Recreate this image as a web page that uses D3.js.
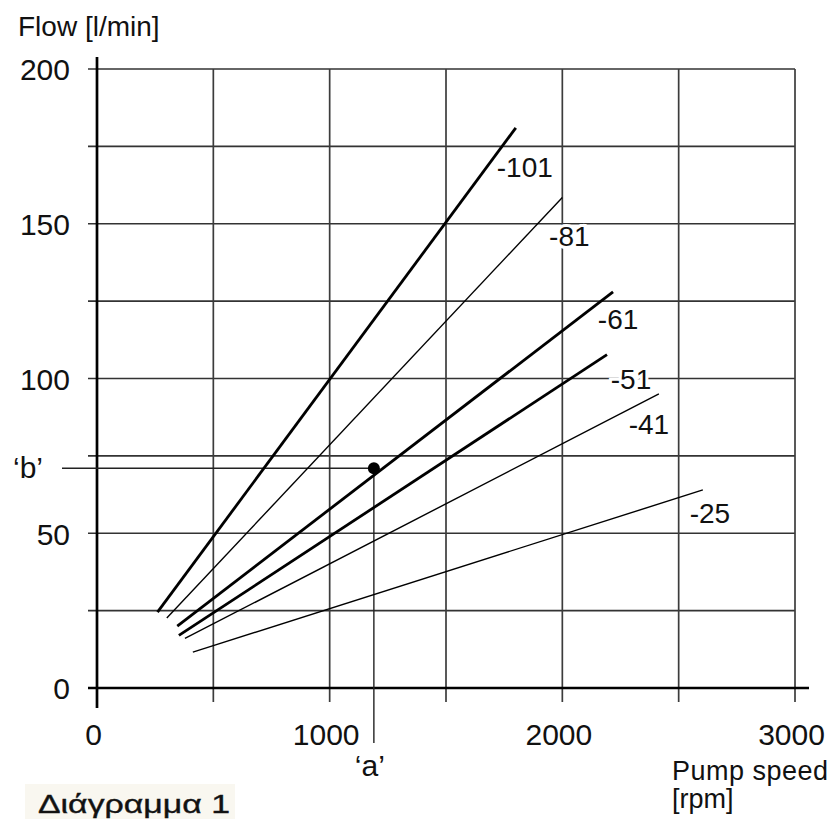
<!DOCTYPE html>
<html>
<head>
<meta charset="utf-8">
<script src="https://cdn.jsdelivr.net/npm/d3@7"></script>
<style>
  html, body { margin: 0; padding: 0; background: #fff; }
  svg { display: block; }
  text { font-family: "Liberation Sans", Arial, Helvetica, sans-serif; fill: #111; }
</style>
</head>
<body>
<svg id="chart" width="833" height="819"></svg>
<script>
// ---- data ----
const models     = ["-101", "-81", "-61", "-51", "-41", "-25"];
const startRpm   = [260, 300, 345, 352, 378, 412];
const startFlow  = [24.5, 22.6, 20, 17, 16, 11.6];
const endRpm     = [1800, 2000, 2218, 2192, 2415, 2604];
const endFlow    = [181, 158.5, 128, 107.7, 95, 64];
const heavy      = [true, false, true, true, false, false];

const xTicks     = [0, 1000, 2000, 3000];
const yTicks     = [0, 50, 100, 150, 200];
const xGrid      = [500, 1000, 1500, 2000, 2500, 3000];
const yGrid      = [25, 50, 75, 100, 125, 150, 175, 200];

const pointA     = 1190;   // 'a' rpm
const pointB     = 71;     // 'b' flow

// ---- layout ----
const svg = d3.select("#chart");
const x = d3.scaleLinear().domain([0, 3000]).range([97, 795]);
const y = d3.scaleLinear().domain([0, 200]).range([688, 69]);
const FS = "Liberation Sans, Arial, sans-serif";

// label offsets (px) from line end
const labelOffset = [[9, 39], [7, 38], [5, 27], [24, 24], [-10, 30], [7, 23]];

// grid
svg.append("g").selectAll("line").data(yGrid).join("line")
  .attr("x1", 88).attr("x2", x(3000))
  .attr("y1", d => y(d)).attr("y2", d => y(d))
  .attr("stroke", "#333").attr("stroke-width", 1.7);
svg.append("g").selectAll("line").data(xGrid).join("line")
  .attr("x1", d => x(d)).attr("x2", d => x(d))
  .attr("y1", y(200)).attr("y2", y(0) + 14)
  .attr("stroke", "#3c3c3c").attr("stroke-width", 1.7);

// axes lines
svg.append("line").attr("x1", x(0)).attr("x2", x(0)).attr("y1", 57).attr("y2", y(0) + 20)
  .attr("stroke", "#000").attr("stroke-width", 2.7);
svg.append("line").attr("x1", 88).attr("x2", 809).attr("y1", y(0)).attr("y2", y(0))
  .attr("stroke", "#000").attr("stroke-width", 2.7);

// tick labels via d3 axes
const yAxis = svg.append("g").attr("transform", `translate(${x(0)},0)`)
  .call(d3.axisLeft(y).tickValues(yTicks).tickSize(0).tickPadding(27).tickFormat(d3.format("d")));
yAxis.select(".domain").remove();
yAxis.selectAll("text").attr("font-size", 30).attr("font-family", FS).attr("fill", "#111").attr("dy", "0.36em");

const xAxis = svg.append("g").attr("transform", `translate(0,${y(0)})`)
  .call(d3.axisBottom(x).tickValues(xTicks).tickSize(0).tickPadding(36).tickFormat(d3.format("d")));
xAxis.select(".domain").remove();
xAxis.selectAll("text").attr("font-size", 30).attr("dx", -4).attr("font-family", FS).attr("fill", "#111");

// reference lines 'a' and 'b'
svg.append("line").attr("x1", 62).attr("x2", x(pointA)).attr("y1", y(pointB)).attr("y2", y(pointB))
  .attr("stroke", "#222").attr("stroke-width", 1.4);
svg.append("line").attr("x1", x(pointA)).attr("x2", x(pointA)).attr("y1", y(pointB)).attr("y2", 743)
  .attr("stroke", "#222").attr("stroke-width", 1.4);

// pump lines
const idx = d3.range(models.length);
svg.append("g").selectAll("line").data(idx).join("line")
  .attr("x1", i => x(startRpm[i])).attr("y1", i => y(startFlow[i]))
  .attr("x2", i => x(endRpm[i])).attr("y2", i => y(endFlow[i]))
  .attr("stroke", "#000")
  .attr("stroke-width", i => heavy[i] ? 2.8 : 1.4)
  .attr("stroke-linecap", "butt");

// line labels
svg.append("g").selectAll("text").data(idx).join("text")
  .attr("x", i => x(endRpm[i]) + labelOffset[i][0])
  .attr("y", i => y(endFlow[i]) + labelOffset[i][1])
  .attr("dy", "0.36em")
  .attr("text-anchor", "middle")
  .attr("font-size", 28)
  .attr("stroke", "#fff").attr("stroke-width", 6).attr("paint-order", "stroke")
  .text(i => models[i]);

// operating point
svg.append("circle").attr("cx", x(pointA)).attr("cy", y(pointB)).attr("r", 6).attr("fill", "#000");

// axis titles
svg.append("text").attr("x", 18).attr("y", 36).attr("font-size", 28).text("Flow [l/min]");
svg.append("text").attr("x", 672).attr("y", 780).attr("font-size", 27).attr("textLength", 156).text("Pump speed");
svg.append("text").attr("x", 672).attr("y", 808).attr("font-size", 27).text("[rpm]");

// 'a' and 'b' labels
svg.append("text").attr("x", x(pointA) - 4).attr("y", 776).attr("text-anchor", "middle").attr("font-size", 30).text("\u2018a\u2019");
svg.append("text").attr("x", 28).attr("y", y(pointB) + 10).attr("text-anchor", "middle").attr("font-size", 30).text("\u2018b\u2019");

// caption
svg.append("rect").attr("x", 25).attr("y", 784).attr("width", 210).attr("height", 35).attr("fill", "#f9f7f0");
svg.append("text").attr("x", 38).attr("y", 813)
  .attr("font-family", "'Noto Sans', 'DejaVu Sans', sans-serif")
  .attr("font-size", 26).attr("textLength", 192).attr("lengthAdjust", "spacingAndGlyphs")
  .attr("fill", "#1a1a1a").attr("stroke", "#1a1a1a").attr("stroke-width", 0.4)
  .text("Διάγραμμα 1");
</script>
</body>
</html>
